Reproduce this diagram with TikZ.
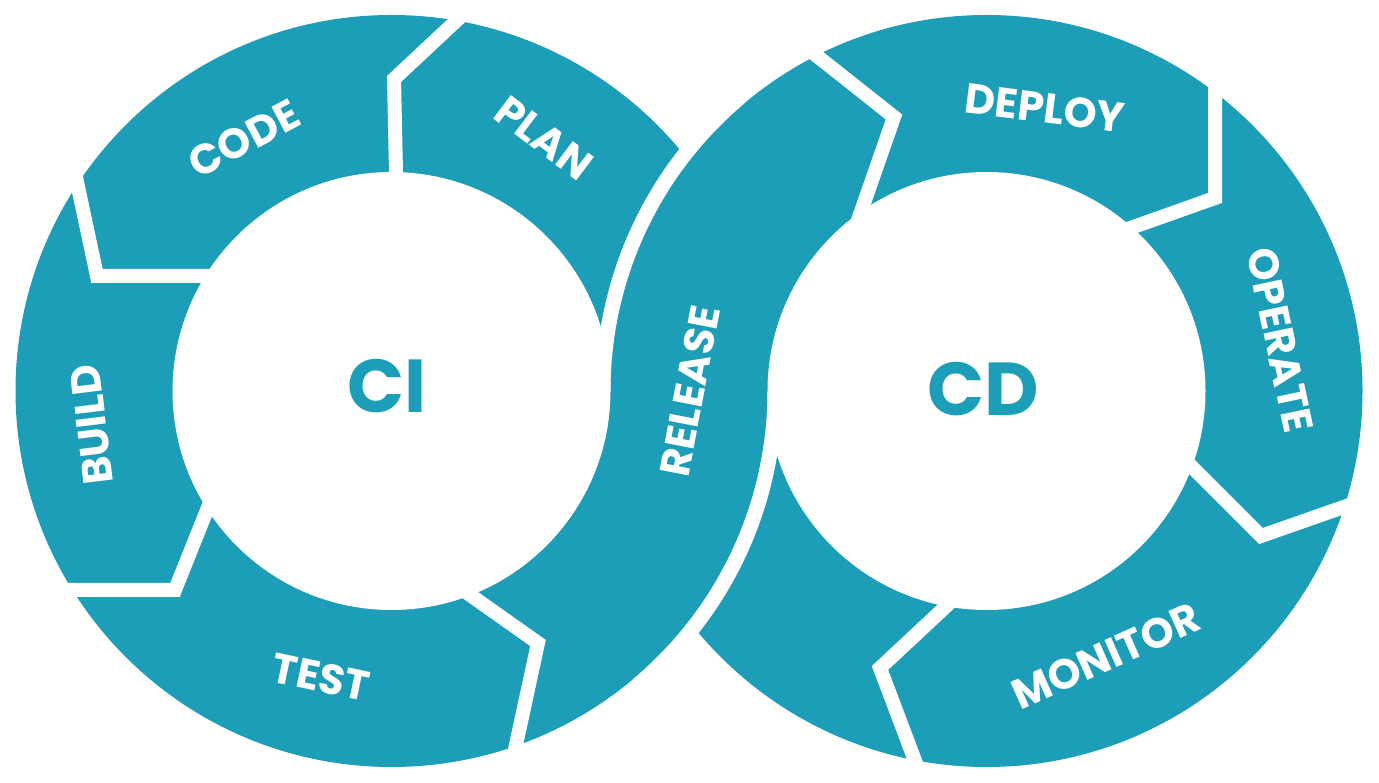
\documentclass[tikz,border=0pt]{standalone}
\usepackage{fontspec}
\setmainfont{Poppins}
\definecolor{ringteal}{RGB}{28,157,184}
\begin{document}
\begin{tikzpicture}[x=1pt,y=1pt,
  ringfill/.style={fill=ringteal},
  hole/.style={fill=white},
  gap/.style={draw=white, line width=14pt, line join=miter, miter limit=20},
  over/.style={draw=white, line width=15pt},
  lab/.style={text=white, font=\bfseries\fontsize{42}{42}\selectfont, inner sep=0pt},
  big/.style={text=ringteal, font=\bfseries\fontsize{75}{75}\selectfont, inner sep=0pt}]
\useasboundingbox (0,0) rectangle (1379,782);
\coordinate (c1) at (391.5,391);
\coordinate (c2) at (986.5,391);
% rings
\fill[ringfill] (c1) circle[radius=376];
\fill[ringfill] (c2) circle[radius=376];
\fill[hole] (c1) circle[radius=219];
\fill[hole] (c2) circle[radius=219];
% crossing (RELEASE passes over)
\draw[over] (c1) ++(-50:383.5) arc[start angle=-50, end angle=0, radius=383.5];
\draw[over] (c2) ++(180:383.5) arc[start angle=180, end angle=130, radius=383.5];
% separators
\draw[gap] (396.3,595) -- (394,703) -- (466,770.3);
\draw[gap] (74,614) -- (97,506) -- (222,506);
\draw[gap] (212.6,286) -- (175,192) -- (57,192);
\draw[gap] (458,195.6) -- (538,139) -- (512.8,22.3);
\draw[gap] (805,735.5) -- (894,665) -- (856,556);
\draw[gap] (1215,705) -- (1215,584) -- (1122,551);
\draw[gap] (1182,325) -- (1261,246) -- (1358,280);
\draw[gap] (956,185) -- (880,114) -- (920,8);
% labels
\node[lab, rotate=28] (code) at (244,643) {CODE};
\node[lab, rotate=-37] (plan) at (544,644) {PLAN};
\node[lab, rotate=97] (build) at (92,357) {BUILD};
\node[lab, rotate=-12] (test) at (321,105) {TEST};
\node[lab, rotate=79] (release) at (690,391) {RELEASE};
\node[lab, rotate=-7] (deploy) at (1045,674) {DEPLOY};
\node[lab, rotate=-78] (operate) at (1280,442) {OPERATE};
\node[lab, rotate=24] (monitor) at (1106,126) {MONITOR};
\node[big] (ci) at (387,396) {CI};
\node[big] (cd) at (983,393) {CD};
\end{tikzpicture}
\end{document}
